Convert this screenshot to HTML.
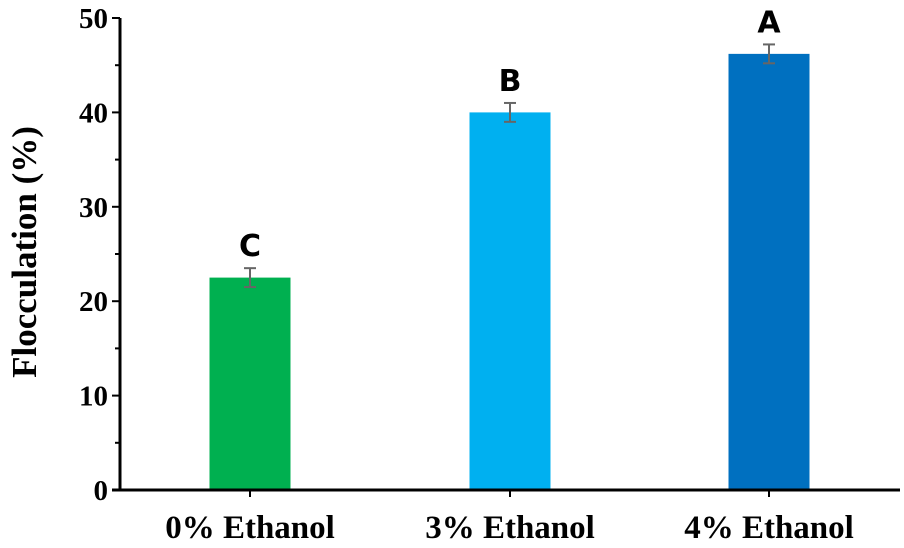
<!DOCTYPE html>
<html><head><meta charset="utf-8"><style>
html,body{margin:0;padding:0;background:#fff;}
svg{display:block;}
</style></head><body>
<svg id="chart" width="904" height="548" viewBox="0 0 904 548" xmlns="http://www.w3.org/2000/svg"></svg>
<script>
const categories = ["0% Ethanol", "3% Ethanol", "4% Ethanol"];
const values = [22.5, 40.0, 46.2];
const errors = [1.0, 1.0, 1.0];
const letters = ["C", "B", "A"];
const colors = ["#00b050", "#00b0f0", "#0070c0"];
const yTicks = [0, 10, 20, 30, 40, 50];

const NS = "http://www.w3.org/2000/svg";
const svg = document.getElementById("chart");
const x0 = 120, x1 = 900, yBase = 490, yTop = 18, yMax = 50;
const centers = [250, 510, 769];
const barW = 81;
function yScale(v){ return yBase - (v / yMax) * (yBase - yTop); }
function xScale(i){ return centers[i]; }
function mk(tag, attrs, parent){
  const e = document.createElementNS(NS, tag);
  for (const k in attrs) e.setAttribute(k, attrs[k]);
  (parent || svg).appendChild(e);
  return e;
}

values.forEach((v, i) => {
  const cx = xScale(i);
  const bar = mk("rect", {x: cx - barW/2, y: yScale(v), width: barW, height: yBase - yScale(v), fill: colors[i]});
  
  
  const g = mk("g", {stroke: "#666", "stroke-width": 2});
  
  
  const hi = yScale(v + errors[i]), lo = yScale(v - errors[i]);
  mk("line", {x1: cx, x2: cx, y1: hi, y2: lo}, g);
  mk("line", {x1: cx - 6, x2: cx + 6, y1: hi, y2: hi}, g);
  mk("line", {x1: cx - 6, x2: cx + 6, y1: lo, y2: lo}, g);
  const t = mk("text", {x: cx, y: hi - 12, "text-anchor": "middle", "font-family": "DejaVu Sans, Liberation Sans, sans-serif", "font-weight": "bold", "font-size": 30, fill: "#000"});
  t.textContent = letters[i];
  
  
  const lab = mk("text", {x: cx, y: 538, "text-anchor": "middle", "font-family": "Liberation Serif, serif", "font-weight": "bold", "font-size": 33, fill: "#000"});
  lab.textContent = categories[i];
  
  
  const tk = mk("line", {x1: cx, x2: cx, y1: yBase, y2: yBase + 7, stroke: "#000", "stroke-width": 2});
  
  
});

yTicks.forEach((v, i) => {
  const y = yScale(v);
  const tk = mk("line", {x1: x0 - 8, x2: x0, y1: y, y2: y, stroke: "#000", "stroke-width": 2});
  
  
  if (i < yTicks.length - 1) {
    const ym = yScale(v + 5);
    const mt = mk("line", {x1: x0 - 5, x2: x0, y1: ym, y2: ym, stroke: "#000", "stroke-width": 2});
    
    
  }
  const t = mk("text", {x: x0 - 12, y: y + 10, "text-anchor": "end", "font-family": "Liberation Serif, serif", "font-weight": "bold", "font-size": 29, fill: "#000"});
  t.textContent = v;
  
  
});

const ya = mk("line", {x1: x0, x2: x0, y1: yTop, y2: yBase + 1, stroke: "#000", "stroke-width": 3});


const xa = mk("line", {x1: x0 - 8, x2: x1, y1: yBase, y2: yBase, stroke: "#000", "stroke-width": 3});



const yt = mk("text", {x: 0, y: 0, transform: "translate(36,252) rotate(-90)", "text-anchor": "middle", "font-family": "Liberation Serif, serif", "font-weight": "bold", "font-size": 35, fill: "#000"});
yt.textContent = "Flocculation (%)";


</script>
</body></html>
